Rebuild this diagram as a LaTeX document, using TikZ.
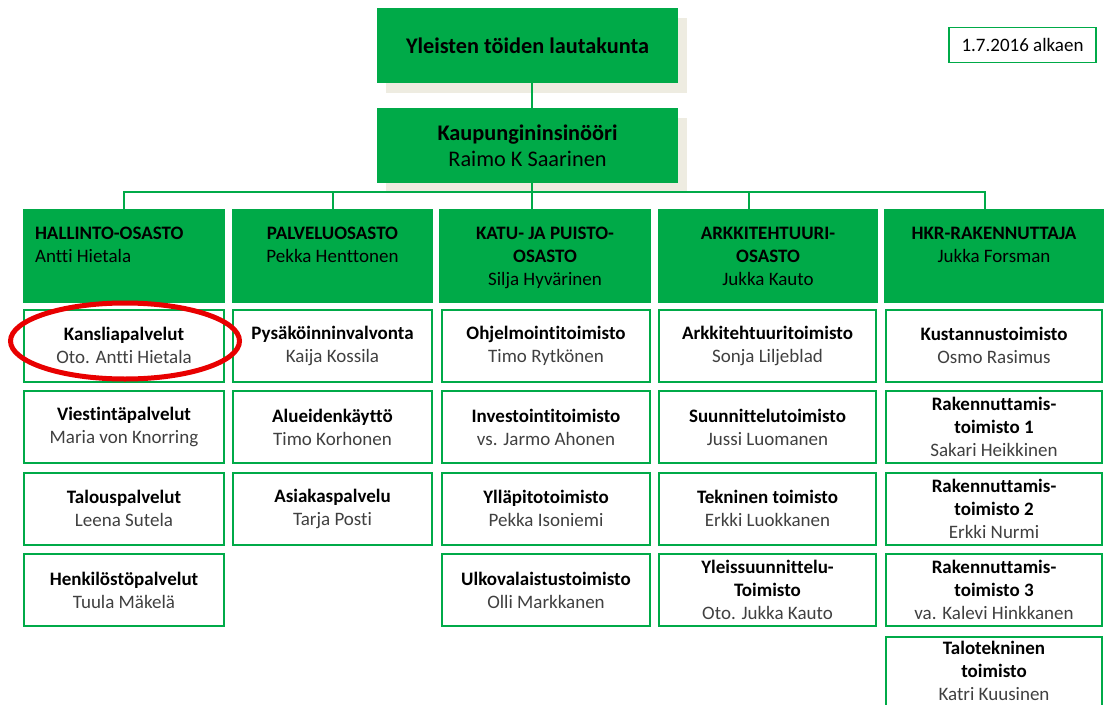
\documentclass[tikz,border=0pt]{standalone}
\usepackage{fontspec}
\setmainfont{Carlito}[Ligatures=NoCommon]
\usetikzlibrary{shadows,shapes.geometric}
\definecolor{hkr}{RGB}{0,170,72}
\definecolor{shad}{RGB}{238,236,225}
\definecolor{namegray}{RGB}{64,64,64}
\definecolor{markred}{RGB}{232,0,0}
\newcommand\nm[1]{{\color{namegray}#1}}
\newcommand\tfont{\fontsize{22.3}{26}\selectfont}
\newcommand\mfont{\fontsize{19}{23}\selectfont}
\begin{document}
\begin{tikzpicture}[x=1pt,y=-1pt,
  every node/.style={inner sep=0pt,outer sep=0pt},
  conn/.style={draw=hkr,line width=2pt},
  topbox/.style={fill=hkr,minimum width=301,minimum height=75,align=center,font=\tfont,
    drop shadow={shadow xshift=9pt,shadow yshift=-10pt,fill=shad,opacity=1}},
  deptbox/.style={fill=hkr,minimum height=94},
  deptlabel/.style={font=\mfont,align=center},
  subbox/.style={draw=hkr,line width=2pt,fill=white,minimum height=72,align=center,font=\mfont},
  datebox/.style={draw=hkr,line width=1.5pt,minimum width=147,minimum height=35,font=\fontsize{19}{22}\selectfont},
  redring/.style={ellipse,draw=markred,line width=5pt,minimum width=229,minimum height=76},
  c1/.style={minimum width=200},
  c2/.style={minimum width=199},
  c3/.style={minimum width=208},
  c4/.style={minimum width=217},
  c5/.style={minimum width=216}]
\useasboundingbox (0,0) rectangle (1107,704);
\clip (0,0) rectangle (1107,704);

% top boxes
\node[topbox] (lauta) at (527.5,45.5) {\textbf{Yleisten töiden lautakunta}};
\node[topbox] (ki) at (527.5,145.5) {\textbf{Kaupungininsinööri}\\Raimo K Saarinen};
\node[datebox] (date) at (1022.5,45) {1.7.2016 alkaen};

% departments
\node[deptbox,minimum width=202] (d1) at (124,256) {};
\node[deptbox,minimum width=201] (d2) at (332.5,256) {};
\node[deptbox,minimum width=212] (d3) at (545,256) {};
\node[deptbox,minimum width=220] (d4) at (768,256) {};
\node[deptbox,minimum width=220] (d5) at (994,256) {};

% connectors
\coordinate (bus) at (532,192);
\draw[conn] ([xshift=4.5pt]lauta.south) -- ([xshift=4.5pt]ki.north);
\draw[conn] ([xshift=4.5pt]ki.south) -- ([xshift=-13pt]d3.north);
\draw[conn] (d1.north) |- (bus) -| ([xshift=-9pt]d5.north);
\draw[conn] (d2.north) -- (d2.north |- bus);
\draw[conn] ([xshift=-19pt]d4.north) -- ([xshift=-19pt]d4.north |- bus);

\node[deptlabel,align=left,anchor=north west] (l1) at ([xshift=12pt,yshift=-18pt]d1.north west) {\textbf{HALLINTO-OSASTO}\\Antti Hietala};
\node[deptlabel,anchor=north] (l2) at ([yshift=-18pt]d2.north) {\textbf{PALVELUOSASTO}\\Pekka Henttonen};
\node[deptlabel,anchor=north] (l3) at ([yshift=-18pt]d3.north) {\textbf{KATU- JA PUISTO-}\\\textbf{OSASTO}\\Silja Hyvärinen};
\node[deptlabel,anchor=north] (l4) at ([yshift=-18pt]d4.north) {\textbf{ARKKITEHTUURI-}\\\textbf{OSASTO}\\Jukka Kauto};
\node[deptlabel,anchor=north] (l5) at ([yshift=-18pt]d5.north) {\textbf{HKR-RAKENNUTTAJA}\\Jukka Forsman};

% column 1
\node[subbox,c1] (s11) at (124,345.5) {\textbf{Kansliapalvelut}\\\nm{Oto. Antti Hietala}};
\node[subbox,c1] (s12) at (124,427) {\textbf{Viestintäpalvelut}\\\nm{Maria von Knorring}};
\node[subbox,c1] (s13) at (124,508.5) {\textbf{Talouspalvelut}\\\nm{Leena Sutela}};
\node[subbox,c1] (s14) at (124,590) {\textbf{Henkilöstöpalvelut}\\\nm{Tuula Mäkelä}};
% column 2
\node[subbox,c2] (s21) at (332.5,345.5) {\textbf{Pysäköinninvalvonta}\\\nm{Kaija Kossila}};
\node[subbox,c2] (s22) at (332.5,427) {\textbf{Alueidenkäyttö}\\\nm{Timo Korhonen}};
\node[subbox,c2] (s23) at (332.5,508.5) {\textbf{Asiakaspalvelu}\\\nm{Tarja Posti}};
% column 3
\node[subbox,c3] (s31) at (546,345.5) {\textbf{Ohjelmointitoimisto}\\\nm{Timo Rytkönen}};
\node[subbox,c3] (s32) at (546,427) {\textbf{Investointitoimisto}\\\nm{vs. Jarmo Ahonen}};
\node[subbox,c3] (s33) at (546,508.5) {\textbf{Ylläpitotoimisto}\\\nm{Pekka Isoniemi}};
\node[subbox,c3] (s34) at (546,590) {\textbf{Ulkovalaistustoimisto}\\\nm{Olli Markkanen}};
% column 4
\node[subbox,c4] (s41) at (767.5,345.5) {\textbf{Arkkitehtuuritoimisto}\\\nm{Sonja Liljeblad}};
\node[subbox,c4] (s42) at (767.5,427) {\textbf{Suunnittelutoimisto}\\\nm{Jussi Luomanen}};
\node[subbox,c4] (s43) at (767.5,508.5) {\textbf{Tekninen toimisto}\\\nm{Erkki Luokkanen}};
\node[subbox,c4] (s44) at (767.5,590) {\textbf{Yleissuunnittelu-}\\\textbf{Toimisto}\\\nm{Oto. Jukka Kauto}};
% column 5
\node[subbox,c5] (s51) at (994,345.5) {\textbf{Kustannustoimisto}\\\nm{Osmo Rasimus}};
\node[subbox,c5] (s52) at (994,427) {\textbf{Rakennuttamis-}\\\textbf{toimisto 1}\\\nm{Sakari Heikkinen}};
\node[subbox,c5] (s53) at (994,508.5) {\textbf{Rakennuttamis-}\\\textbf{toimisto 2}\\\nm{Erkki Nurmi}};
\node[subbox,c5] (s54) at (994,590) {\textbf{Rakennuttamis-}\\\textbf{toimisto 3}\\\nm{va. Kalevi Hinkkanen}};
\node[subbox,c5] (s55) at (994,672.5) {};
\node[font=\mfont,align=center] (t55) at (994,670.5) {\textbf{Talotekninen}\\\textbf{toimisto}\\\nm{Katri Kuusinen}};

% red mark
\node[redring] (ring) at (125,341) {};
\end{tikzpicture}
\end{document}
